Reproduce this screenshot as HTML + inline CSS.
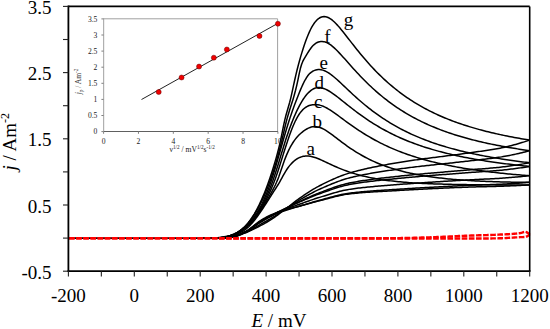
<!DOCTYPE html>
<html><head><meta charset="utf-8"><style>
html,body{margin:0;padding:0;background:#fff;}
body{width:550px;height:329px;overflow:hidden;}
svg{display:block;font-family:"Liberation Serif",serif;}
</style></head><body>
<svg width="550" height="329" viewBox="0 0 550 329">
<rect width="550" height="329" fill="#fff"/>
<g>
<line x1="103.6" y1="18.8" x2="277.6" y2="18.8" stroke="#a0a0a0" stroke-width="1"/>
<line x1="277.6" y1="18.8" x2="277.6" y2="131.6" stroke="#a0a0a0" stroke-width="1"/>
<line x1="103.6" y1="18.3" x2="103.6" y2="131.6" stroke="#b0b0b0" stroke-width="1.2"/>
<line x1="103.6" y1="131.5" x2="278" y2="131.5" stroke="#606060" stroke-width="1.2"/>
<line x1="101.4" y1="131.60" x2="103.6" y2="131.60" stroke="#808080" stroke-width="1"/>
<line x1="101.4" y1="115.50" x2="103.6" y2="115.50" stroke="#808080" stroke-width="1"/>
<line x1="101.4" y1="99.40" x2="103.6" y2="99.40" stroke="#808080" stroke-width="1"/>
<line x1="101.4" y1="83.30" x2="103.6" y2="83.30" stroke="#808080" stroke-width="1"/>
<line x1="101.4" y1="67.20" x2="103.6" y2="67.20" stroke="#808080" stroke-width="1"/>
<line x1="101.4" y1="51.10" x2="103.6" y2="51.10" stroke="#808080" stroke-width="1"/>
<line x1="101.4" y1="35.00" x2="103.6" y2="35.00" stroke="#808080" stroke-width="1"/>
<line x1="101.4" y1="18.90" x2="103.6" y2="18.90" stroke="#808080" stroke-width="1"/>
<line x1="103.60" y1="131.6" x2="103.60" y2="133.8" stroke="#808080" stroke-width="1"/>
<line x1="138.46" y1="131.6" x2="138.46" y2="133.8" stroke="#808080" stroke-width="1"/>
<line x1="173.32" y1="131.6" x2="173.32" y2="133.8" stroke="#808080" stroke-width="1"/>
<line x1="208.18" y1="131.6" x2="208.18" y2="133.8" stroke="#808080" stroke-width="1"/>
<line x1="243.04" y1="131.6" x2="243.04" y2="133.8" stroke="#808080" stroke-width="1"/>
<line x1="277.90" y1="131.6" x2="277.90" y2="133.8" stroke="#808080" stroke-width="1"/>
<line x1="141.50" y1="99.50" x2="277.40" y2="23.60" stroke="#222" stroke-width="1"/>
<circle cx="158.71" cy="91.99" r="2.5" fill="#f00000" stroke="#600" stroke-width="0.5"/>
<circle cx="181.55" cy="77.50" r="2.5" fill="#f00000" stroke="#600" stroke-width="0.5"/>
<circle cx="199.06" cy="66.56" r="2.5" fill="#f00000" stroke="#600" stroke-width="0.5"/>
<circle cx="213.84" cy="57.70" r="2.5" fill="#f00000" stroke="#600" stroke-width="0.5"/>
<circle cx="226.85" cy="49.49" r="2.5" fill="#f00000" stroke="#600" stroke-width="0.5"/>
<circle cx="259.49" cy="35.97" r="2.5" fill="#f00000" stroke="#600" stroke-width="0.5"/>
<circle cx="277.90" cy="23.73" r="2.5" fill="#f00000" stroke="#600" stroke-width="0.5"/>
</g>
<g fill="none" stroke="#000" stroke-width="1.5" stroke-linejoin="round">
<path d="M200.00,238.10 215.00,238.10 216.03,237.98 217.06,237.85 218.08,237.71 219.11,237.56 220.14,237.40 221.17,237.24 222.20,237.08 223.22,236.91 224.25,236.74 225.28,236.57 226.31,236.40 227.34,236.22 228.37,236.05 229.39,235.87 230.42,235.68 231.45,235.47 232.48,235.24 233.51,235.00 234.53,234.73 235.56,234.43 236.59,234.10 237.62,233.74 238.65,233.34 239.67,232.89 240.70,232.40 241.73,231.86 242.76,231.27 243.79,230.62 244.81,229.91 245.84,229.14 246.87,228.30 247.90,227.40 248.93,226.43 249.96,225.40 250.98,224.31 252.01,223.17 253.04,221.97 254.07,220.72 255.10,219.43 256.12,218.10 257.15,216.72 258.18,215.31 259.21,213.86 260.24,212.38 261.26,210.87 262.29,209.34 263.32,207.79 264.35,206.21 265.38,204.62 266.40,203.02 267.43,201.41 268.46,199.79 269.49,198.17 270.52,196.55 271.54,194.92 272.57,193.31 273.60,191.70 274.63,190.11 275.66,188.52 276.69,186.91 277.71,185.26 278.74,183.54 279.77,181.76 280.80,179.91 281.83,178.03 282.85,176.15 283.88,174.31 284.91,172.52 285.94,170.84 286.97,169.25 287.99,167.78 289.02,166.40 290.05,165.12 291.08,163.94 292.11,162.86 293.13,161.86 294.16,160.95 295.19,160.13 296.22,159.39 297.25,158.73 298.28,158.15 299.30,157.64 300.33,157.21 301.36,156.85 302.39,156.56 303.42,156.33 304.44,156.16 305.47,156.06 306.50,156.01 308.38,156.09 310.25,156.32 312.13,156.70 314.00,157.21 315.88,157.82 317.75,158.52 319.63,159.29 321.51,160.11 323.38,160.97 325.26,161.84 327.13,162.73 329.01,163.61 330.88,164.49 332.76,165.35 334.63,166.20 336.51,167.03 338.39,167.83 340.26,168.61 342.14,169.37 344.01,170.10 345.89,170.80 347.76,171.47 349.64,172.12 351.52,172.74 353.39,173.33 355.27,173.90 357.14,174.45 359.02,174.97 360.89,175.46 362.77,175.94 364.64,176.39 366.52,176.82 368.40,177.23 370.27,177.63 372.15,178.00 374.02,178.36 375.90,178.70 377.77,179.02 379.65,179.33 381.53,179.62 383.40,179.90 385.28,180.16 387.15,180.42 389.03,180.66 390.90,180.88 392.78,181.10 394.65,181.31 396.53,181.50 398.41,181.69 400.28,181.87 402.16,182.03 404.03,182.19 405.91,182.35 407.78,182.49 409.66,182.63 411.54,182.76 413.41,182.88 415.29,183.00 417.16,183.11 419.04,183.21 420.91,183.31 422.79,183.41 424.66,183.50 426.54,183.58 428.42,183.67 430.29,183.74 432.17,183.81 434.04,183.88 435.92,183.95 437.79,184.01 439.67,184.07 441.55,184.12 443.42,184.18 445.30,184.23 447.17,184.27 449.05,184.32 450.92,184.36 452.80,184.40 454.67,184.44 456.55,184.47 458.43,184.51 460.30,184.54 462.18,184.57 464.05,184.60 465.93,184.62 467.80,184.65 469.68,184.67 471.56,184.69 473.43,184.71 475.31,184.73 477.18,184.75 479.06,184.77 480.93,184.78 482.81,184.80 484.68,184.81 486.56,184.82 488.44,184.84 490.31,184.85 492.19,184.86 494.06,184.87 495.94,184.88 497.81,184.88 499.69,184.89 501.57,184.90 503.44,184.90 505.32,184.91 507.19,184.92 509.07,184.92 510.94,184.92 512.82,184.93 514.69,184.93 516.57,184.93 518.45,184.94 520.32,184.94 522.20,184.94 524.07,184.94 525.95,184.94 527.82,184.94 529.70,184.94"/>
<path d="M529.70,184.94 528.14,185.02 526.59,185.11 525.03,185.19 523.47,185.27 521.92,185.35 520.36,185.42 518.80,185.50 517.25,185.57 515.69,185.64 514.14,185.72 512.58,185.78 511.02,185.85 509.47,185.92 507.91,185.98 506.35,186.04 504.80,186.10 503.24,186.16 501.68,186.21 500.13,186.27 498.57,186.32 497.01,186.37 495.46,186.41 493.90,186.45 492.35,186.49 490.79,186.53 489.23,186.57 487.68,186.61 486.12,186.65 484.56,186.68 483.01,186.72 481.45,186.76 479.89,186.79 478.34,186.83 476.78,186.87 475.22,186.91 473.67,186.96 472.11,187.00 470.56,187.05 469.00,187.10 467.44,187.16 465.89,187.21 464.33,187.27 462.77,187.32 461.22,187.38 459.66,187.44 458.10,187.50 456.55,187.56 454.99,187.62 453.43,187.69 451.88,187.75 450.32,187.82 448.77,187.89 447.21,187.96 445.65,188.03 444.10,188.10 442.54,188.17 440.98,188.24 439.43,188.31 437.87,188.39 436.31,188.46 434.76,188.54 433.20,188.61 431.64,188.69 430.09,188.77 428.53,188.85 426.98,188.93 425.42,189.01 423.86,189.09 422.31,189.17 420.75,189.26 419.19,189.34 417.64,189.42 416.08,189.51 414.52,189.59 412.97,189.68 411.41,189.76 409.85,189.85 408.30,189.93 406.74,190.02 405.19,190.11 403.63,190.20 402.07,190.29 400.52,190.37 398.96,190.46 397.40,190.55 395.85,190.64 394.29,190.73 392.73,190.81 391.18,190.90 389.62,190.98 388.06,191.06 386.51,191.15 384.95,191.23 383.40,191.32 381.84,191.40 380.28,191.49 378.73,191.58 377.17,191.67 375.61,191.76 374.06,191.85 372.50,191.95 370.94,192.05 369.39,192.16 367.83,192.26 366.27,192.37 364.72,192.49 363.16,192.61 361.61,192.73 360.05,192.86 358.49,193.00 356.94,193.13 355.38,193.28 353.82,193.43 352.27,193.59 350.71,193.75 349.15,193.93 347.60,194.14 346.04,194.37 344.48,194.63 342.93,194.92 341.37,195.23 339.82,195.56 338.26,195.90 336.70,196.27 335.15,196.64 333.59,197.03 332.03,197.43 330.48,197.84 328.92,198.25 327.36,198.66 325.81,199.07 324.25,199.49 322.69,199.90 321.14,200.30 319.58,200.70 318.03,201.09 316.47,201.49 314.91,201.90 313.36,202.32 311.80,202.74 310.24,203.18 308.69,203.61 307.13,204.05 305.57,204.48 304.02,204.91 302.46,205.34 300.90,205.76 299.35,206.17 297.79,206.57 296.24,206.96 294.68,207.35 293.12,207.73 291.57,208.12 290.01,208.52 288.45,208.93 286.90,209.36 285.34,209.82 283.78,210.29 282.23,210.77 280.67,211.27 279.11,211.79 277.56,212.33 276.00,212.89 274.45,213.48 272.89,214.10 271.33,214.75 269.78,215.45 268.22,216.20 266.66,216.98 265.11,217.81 263.55,218.67 261.99,219.56 260.44,220.54 258.88,221.63 257.32,222.80 255.77,224.04 254.21,225.30 252.66,226.56 251.10,227.79 249.54,228.97 247.99,230.07 246.43,231.05 244.87,231.90 243.32,232.67 241.76,233.43 240.20,234.15 238.65,234.81 237.09,235.41 235.53,235.92 233.98,236.33 232.42,236.64 230.87,236.92 229.31,237.19 227.75,237.44 226.20,237.66 224.64,237.84 223.08,237.98 221.53,238.07 219.97,238.10 200.00,238.10"/>
<path d="M200.00,238.10 215.00,238.07 216.12,238.05 217.24,238.01 218.36,237.97 219.48,237.90 220.60,237.82 221.71,237.72 222.83,237.61 223.95,237.46 225.07,237.30 226.19,237.11 227.31,236.89 228.43,236.64 229.55,236.37 230.67,236.06 231.79,235.71 232.91,235.33 234.02,234.91 235.14,234.45 236.26,233.95 237.38,233.41 238.50,232.82 239.62,232.19 240.74,231.51 241.86,230.77 242.98,229.99 244.10,229.15 245.22,228.26 246.33,227.31 247.45,226.30 248.57,225.24 249.69,224.12 250.81,222.95 251.93,221.73 253.05,220.45 254.17,219.12 255.29,217.74 256.41,216.30 257.53,214.82 258.64,213.29 259.76,211.70 260.88,210.07 262.00,208.40 263.12,206.67 264.24,204.90 265.36,203.09 266.48,201.23 267.60,199.33 268.72,197.38 269.84,195.39 270.96,193.36 272.07,191.29 273.19,189.18 274.31,187.01 275.43,184.73 276.55,182.29 277.67,179.65 278.79,176.75 279.91,173.61 281.03,170.34 282.15,167.01 283.27,163.73 284.38,160.59 285.50,157.64 286.62,154.89 287.74,152.33 288.86,149.94 289.98,147.73 291.10,145.67 292.22,143.77 293.34,142.01 294.46,140.39 295.58,138.89 296.69,137.51 297.81,136.24 298.93,135.06 300.05,133.98 301.17,132.98 302.29,132.06 303.41,131.20 304.53,130.40 305.65,129.66 306.77,128.99 307.89,128.39 309.00,127.87 310.12,127.43 311.24,127.08 312.36,126.81 313.48,126.63 314.60,126.55 316.41,126.67 318.22,127.01 320.02,127.55 321.83,128.29 323.64,129.19 325.45,130.22 327.25,131.37 329.06,132.59 330.87,133.88 332.68,135.22 334.48,136.58 336.29,137.95 338.10,139.33 339.91,140.71 341.71,142.07 343.52,143.41 345.33,144.73 347.14,146.02 348.94,147.29 350.75,148.52 352.56,149.73 354.37,150.90 356.17,152.04 357.98,153.15 359.79,154.22 361.60,155.26 363.40,156.27 365.21,157.25 367.02,158.19 368.83,159.10 370.63,159.99 372.44,160.84 374.25,161.66 376.06,162.46 377.86,163.23 379.67,163.97 381.48,164.69 383.29,165.38 385.09,166.04 386.90,166.68 388.71,167.30 390.52,167.90 392.33,168.48 394.13,169.03 395.94,169.57 397.75,170.09 399.56,170.58 401.36,171.06 403.17,171.52 404.98,171.97 406.79,172.40 408.59,172.81 410.40,173.21 412.21,173.59 414.02,173.96 415.82,174.32 417.63,174.66 419.44,174.99 421.25,175.31 423.05,175.62 424.86,175.91 426.67,176.20 428.48,176.47 430.28,176.73 432.09,176.99 433.90,177.23 435.71,177.47 437.51,177.69 439.32,177.91 441.13,178.12 442.94,178.32 444.74,178.52 446.55,178.70 448.36,178.88 450.17,179.06 451.97,179.22 453.78,179.38 455.59,179.54 457.40,179.68 459.21,179.83 461.01,179.96 462.82,180.09 464.63,180.22 466.44,180.34 468.24,180.46 470.05,180.57 471.86,180.68 473.67,180.78 475.47,180.88 477.28,180.97 479.09,181.06 480.90,181.15 482.70,181.24 484.51,181.32 486.32,181.39 488.13,181.46 489.93,181.53 491.74,181.60 493.55,181.66 495.36,181.72 497.16,181.78 498.97,181.84 500.78,181.89 502.59,181.94 504.39,181.98 506.20,182.03 508.01,182.07 509.82,182.11 511.62,182.14 513.43,182.18 515.24,182.21 517.05,182.24 518.85,182.26 520.66,182.29 522.47,182.31 524.28,182.33 526.08,182.34 527.89,182.35 529.70,182.36"/>
<path d="M529.70,182.36 528.14,182.48 526.59,182.59 525.03,182.71 523.47,182.82 521.92,182.93 520.36,183.04 518.80,183.15 517.25,183.25 515.69,183.35 514.14,183.45 512.58,183.55 511.02,183.64 509.47,183.73 507.91,183.82 506.35,183.91 504.80,183.99 503.24,184.07 501.68,184.15 500.13,184.23 498.57,184.30 497.01,184.36 495.46,184.43 493.90,184.49 492.35,184.55 490.79,184.60 489.23,184.66 487.68,184.71 486.12,184.76 484.56,184.81 483.01,184.86 481.45,184.91 479.89,184.97 478.34,185.02 476.78,185.07 475.22,185.13 473.67,185.19 472.11,185.25 470.56,185.31 469.00,185.38 467.44,185.45 465.89,185.51 464.33,185.58 462.77,185.65 461.22,185.72 459.66,185.80 458.10,185.87 456.55,185.94 454.99,186.02 453.43,186.09 451.88,186.17 450.32,186.24 448.77,186.32 447.21,186.40 445.65,186.48 444.10,186.56 442.54,186.64 440.98,186.72 439.43,186.80 437.87,186.88 436.31,186.96 434.76,187.05 433.20,187.13 431.64,187.22 430.09,187.31 428.53,187.39 426.98,187.48 425.42,187.57 423.86,187.66 422.31,187.75 420.75,187.84 419.19,187.93 417.64,188.02 416.08,188.12 414.52,188.21 412.97,188.30 411.41,188.40 409.85,188.50 408.30,188.59 406.74,188.69 405.19,188.79 403.63,188.89 402.07,188.99 400.52,189.09 398.96,189.19 397.40,189.29 395.85,189.39 394.29,189.49 392.73,189.59 391.18,189.69 389.62,189.78 388.06,189.88 386.51,189.98 384.95,190.08 383.40,190.18 381.84,190.28 380.28,190.38 378.73,190.49 377.17,190.59 375.61,190.70 374.06,190.81 372.50,190.92 370.94,191.04 369.39,191.16 367.83,191.29 366.27,191.42 364.72,191.55 363.16,191.69 361.61,191.83 360.05,191.98 358.49,192.13 356.94,192.29 355.38,192.46 353.82,192.63 352.27,192.81 350.71,192.99 349.15,193.19 347.60,193.42 346.04,193.67 344.48,193.95 342.93,194.25 341.37,194.58 339.82,194.92 338.26,195.28 336.70,195.66 335.15,196.05 333.59,196.46 332.03,196.87 330.48,197.29 328.92,197.72 327.36,198.15 325.81,198.59 324.25,199.02 322.69,199.45 321.14,199.88 319.58,200.30 318.03,200.72 316.47,201.14 314.91,201.59 313.36,202.04 311.80,202.50 310.24,202.96 308.69,203.43 307.13,203.91 305.57,204.38 304.02,204.86 302.46,205.33 300.90,205.80 299.35,206.26 297.79,206.71 296.24,207.15 294.68,207.60 293.12,208.04 291.57,208.49 290.01,208.95 288.45,209.42 286.90,209.91 285.34,210.42 283.78,210.94 282.23,211.47 280.67,212.01 279.11,212.57 277.56,213.15 276.00,213.75 274.45,214.38 272.89,215.02 271.33,215.70 269.78,216.41 268.22,217.15 266.66,217.93 265.11,218.73 263.55,219.58 261.99,220.45 260.44,221.39 258.88,222.44 257.32,223.56 255.77,224.72 254.21,225.91 252.66,227.10 251.10,228.26 249.54,229.37 247.99,230.40 246.43,231.34 244.87,232.14 243.32,232.89 241.76,233.61 240.20,234.30 238.65,234.95 237.09,235.52 235.53,236.02 233.98,236.41 232.42,236.71 230.87,236.98 229.31,237.24 227.75,237.47 226.20,237.68 224.64,237.85 223.08,237.99 221.53,238.07 219.97,238.10 200.00,238.10"/>
<path d="M200.00,238.10 215.00,238.09 216.13,238.04 217.27,237.98 218.40,237.90 219.54,237.81 220.67,237.70 221.81,237.57 222.94,237.41 224.08,237.23 225.21,237.03 226.35,236.80 227.48,236.54 228.62,236.26 229.75,235.94 230.89,235.58 232.02,235.20 233.16,234.78 234.29,234.32 235.43,233.82 236.56,233.28 237.70,232.69 238.83,232.07 239.97,231.40 241.10,230.68 242.24,229.91 243.37,229.09 244.51,228.22 245.64,227.30 246.78,226.33 247.91,225.29 249.04,224.20 250.18,223.05 251.31,221.84 252.45,220.56 253.58,219.22 254.72,217.82 255.85,216.35 256.99,214.81 258.12,213.19 259.26,211.51 260.39,209.75 261.53,207.92 262.66,206.01 263.80,204.02 264.93,201.95 266.07,199.80 267.20,197.56 268.34,195.25 269.47,192.84 270.61,190.35 271.74,187.76 272.88,185.06 274.01,182.23 275.15,179.24 276.28,176.07 277.42,172.74 278.55,169.28 279.69,165.72 280.82,162.11 281.96,158.49 283.09,154.88 284.22,151.30 285.36,147.76 286.49,144.28 287.63,140.88 288.76,137.56 289.90,134.36 291.03,131.28 292.17,128.35 293.30,125.56 294.44,122.96 295.57,120.54 296.71,118.32 297.84,116.31 298.98,114.50 300.11,112.88 301.25,111.43 302.38,110.15 303.52,109.03 304.65,108.07 305.79,107.24 306.92,106.55 308.06,105.98 309.19,105.53 310.33,105.17 311.46,104.92 312.60,104.75 313.73,104.66 314.87,104.65 316.00,104.71 317.80,104.81 319.59,105.11 321.39,105.60 323.18,106.26 324.98,107.07 326.77,108.01 328.57,109.05 330.37,110.18 332.16,111.37 333.96,112.61 335.75,113.89 337.55,115.20 339.35,116.52 341.14,117.85 342.94,119.17 344.73,120.50 346.53,121.81 348.32,123.12 350.12,124.41 351.92,125.68 353.71,126.93 355.51,128.16 357.30,129.38 359.10,130.56 360.89,131.73 362.69,132.88 364.49,134.00 366.28,135.09 368.08,136.17 369.87,137.22 371.67,138.25 373.47,139.25 375.26,140.23 377.06,141.19 378.85,142.13 380.65,143.05 382.44,143.94 384.24,144.81 386.04,145.67 387.83,146.50 389.63,147.31 391.42,148.10 393.22,148.88 395.02,149.63 396.81,150.37 398.61,151.09 400.40,151.79 402.20,152.48 403.99,153.14 405.79,153.80 407.59,154.43 409.38,155.05 411.18,155.66 412.97,156.25 414.77,156.83 416.56,157.39 418.36,157.94 420.16,158.48 421.95,159.00 423.75,159.51 425.54,160.01 427.34,160.50 429.14,160.97 430.93,161.43 432.73,161.89 434.52,162.33 436.32,162.76 438.11,163.18 439.91,163.59 441.71,163.99 443.50,164.38 445.30,164.77 447.09,165.14 448.89,165.51 450.68,165.86 452.48,166.21 454.28,166.55 456.07,166.88 457.87,167.21 459.66,167.53 461.46,167.84 463.26,168.14 465.05,168.44 466.85,168.73 468.64,169.01 470.44,169.29 472.23,169.56 474.03,169.82 475.83,170.08 477.62,170.33 479.42,170.58 481.21,170.82 483.01,171.06 484.81,171.29 486.60,171.52 488.40,171.74 490.19,171.96 491.99,172.17 493.78,172.38 495.58,172.58 497.38,172.78 499.17,172.97 500.97,173.17 502.76,173.35 504.56,173.53 506.35,173.71 508.15,173.89 509.95,174.06 511.74,174.22 513.54,174.39 515.33,174.55 517.13,174.70 518.93,174.86 520.72,175.00 522.52,175.15 524.31,175.29 526.11,175.42 527.90,175.55 529.70,175.67"/>
<path d="M529.70,175.67 528.14,175.84 526.59,176.00 525.03,176.16 523.47,176.32 521.92,176.48 520.36,176.63 518.80,176.78 517.25,176.93 515.69,177.07 514.14,177.21 512.58,177.35 511.02,177.48 509.47,177.61 507.91,177.73 506.35,177.85 504.80,177.97 503.24,178.08 501.68,178.19 500.13,178.30 498.57,178.39 497.01,178.49 495.46,178.58 493.90,178.66 492.35,178.75 490.79,178.83 489.23,178.90 487.68,178.98 486.12,179.05 484.56,179.12 483.01,179.20 481.45,179.27 479.89,179.34 478.34,179.41 476.78,179.49 475.22,179.56 473.67,179.64 472.11,179.72 470.56,179.81 469.00,179.90 467.44,179.99 465.89,180.07 464.33,180.16 462.77,180.25 461.22,180.34 459.66,180.43 458.10,180.52 456.55,180.61 454.99,180.71 453.43,180.80 451.88,180.89 450.32,180.98 448.77,181.08 447.21,181.17 445.65,181.27 444.10,181.36 442.54,181.46 440.98,181.55 439.43,181.65 437.87,181.75 436.31,181.85 434.76,181.95 433.20,182.05 431.64,182.15 430.09,182.25 428.53,182.35 426.98,182.46 425.42,182.56 423.86,182.67 422.31,182.77 420.75,182.88 419.19,182.99 417.64,183.09 416.08,183.20 414.52,183.32 412.97,183.43 411.41,183.54 409.85,183.65 408.30,183.77 406.74,183.89 405.19,184.00 403.63,184.12 402.07,184.24 400.52,184.36 398.96,184.49 397.40,184.61 395.85,184.73 394.29,184.85 392.73,184.97 391.18,185.09 389.62,185.21 388.06,185.34 386.51,185.46 384.95,185.58 383.40,185.70 381.84,185.83 380.28,185.95 378.73,186.08 377.17,186.21 375.61,186.35 374.06,186.49 372.50,186.63 370.94,186.77 369.39,186.92 367.83,187.07 366.27,187.23 364.72,187.39 363.16,187.56 361.61,187.74 360.05,187.92 358.49,188.10 356.94,188.30 355.38,188.50 353.82,188.70 352.27,188.92 350.71,189.14 349.15,189.38 347.60,189.64 346.04,189.93 344.48,190.25 342.93,190.59 341.37,190.96 339.82,191.34 338.26,191.75 336.70,192.17 335.15,192.60 333.59,193.05 332.03,193.51 330.48,193.98 328.92,194.46 327.36,194.94 325.81,195.42 324.25,195.91 322.69,196.39 321.14,196.87 319.58,197.35 318.03,197.83 316.47,198.32 314.91,198.82 313.36,199.34 311.80,199.87 310.24,200.41 308.69,200.96 307.13,201.51 305.57,202.06 304.02,202.62 302.46,203.17 300.90,203.72 299.35,204.27 297.79,204.81 296.24,205.35 294.68,205.89 293.12,206.44 291.57,206.99 290.01,207.55 288.45,208.12 286.90,208.71 285.34,209.31 283.78,209.92 282.23,210.54 280.67,211.18 279.11,211.83 277.56,212.49 276.00,213.18 274.45,213.88 272.89,214.60 271.33,215.34 269.78,216.11 268.22,216.90 266.66,217.71 265.11,218.56 263.55,219.43 261.99,220.33 260.44,221.30 258.88,222.36 257.32,223.49 255.77,224.65 254.21,225.83 252.66,227.01 251.10,228.16 249.54,229.27 247.99,230.29 246.43,231.22 244.87,232.04 243.32,232.79 241.76,233.53 240.20,234.24 238.65,234.90 237.09,235.49 235.53,235.99 233.98,236.40 232.42,236.70 230.87,236.97 229.31,237.23 227.75,237.47 226.20,237.68 224.64,237.85 223.08,237.99 221.53,238.07 219.97,238.10 200.00,238.10"/>
<path d="M200.00,238.10 215.00,238.09 216.16,238.03 217.32,237.96 218.48,237.87 219.64,237.76 220.80,237.63 221.96,237.48 223.12,237.31 224.29,237.11 225.45,236.88 226.61,236.62 227.77,236.33 228.93,236.01 230.09,235.66 231.25,235.27 232.41,234.84 233.57,234.38 234.73,233.87 235.89,233.33 237.05,232.74 238.21,232.10 239.37,231.42 240.53,230.70 241.70,229.92 242.86,229.09 244.02,228.20 245.18,227.27 246.34,226.27 247.50,225.21 248.66,224.09 249.82,222.90 250.98,221.64 252.14,220.31 253.30,218.90 254.46,217.42 255.62,215.85 256.78,214.19 257.94,212.45 259.11,210.61 260.27,208.68 261.43,206.66 262.59,204.53 263.75,202.30 264.91,199.96 266.07,197.51 267.23,194.94 268.39,192.26 269.55,189.45 270.71,186.50 271.87,183.42 273.03,180.20 274.19,176.83 275.36,173.32 276.52,169.69 277.68,165.97 278.84,162.19 280.00,158.37 281.16,154.53 282.32,150.71 283.48,146.92 284.64,143.21 285.80,139.58 286.96,136.06 288.12,132.66 289.28,129.37 290.44,126.19 291.60,123.14 292.77,120.20 293.93,117.38 295.09,114.69 296.25,112.11 297.41,109.66 298.57,107.33 299.73,105.12 300.89,103.04 302.05,101.09 303.21,99.27 304.37,97.58 305.53,96.01 306.69,94.58 307.85,93.28 309.01,92.11 310.18,91.07 311.34,90.16 312.50,89.39 313.66,88.75 314.82,88.25 315.98,87.87 317.14,87.63 318.30,87.50 320.08,87.60 321.85,87.92 323.63,88.44 325.41,89.14 327.18,90.00 328.96,91.00 330.74,92.10 332.51,93.30 334.29,94.57 336.06,95.90 337.84,97.26 339.62,98.66 341.39,100.07 343.17,101.49 344.95,102.91 346.72,104.33 348.50,105.74 350.28,107.14 352.05,108.53 353.83,109.90 355.61,111.25 357.38,112.58 359.16,113.89 360.94,115.18 362.71,116.44 364.49,117.68 366.26,118.90 368.04,120.09 369.82,121.26 371.59,122.41 373.37,123.53 375.15,124.63 376.92,125.71 378.70,126.76 380.48,127.79 382.25,128.79 384.03,129.78 385.81,130.74 387.58,131.68 389.36,132.60 391.14,133.50 392.91,134.38 394.69,135.24 396.46,136.07 398.24,136.89 400.02,137.70 401.79,138.48 403.57,139.24 405.35,139.99 407.12,140.72 408.90,141.44 410.68,142.13 412.45,142.81 414.23,143.48 416.01,144.13 417.78,144.77 419.56,145.39 421.34,146.00 423.11,146.59 424.89,147.17 426.66,147.74 428.44,148.29 430.22,148.83 431.99,149.36 433.77,149.88 435.55,150.39 437.32,150.88 439.10,151.37 440.88,151.84 442.65,152.31 444.43,152.76 446.21,153.20 447.98,153.64 449.76,154.06 451.54,154.47 453.31,154.88 455.09,155.28 456.86,155.67 458.64,156.05 460.42,156.42 462.19,156.79 463.97,157.14 465.75,157.49 467.52,157.84 469.30,158.17 471.08,158.50 472.85,158.82 474.63,159.14 476.41,159.45 478.18,159.75 479.96,160.05 481.74,160.34 483.51,160.62 485.29,160.90 487.06,161.18 488.84,161.45 490.62,161.71 492.39,161.97 494.17,162.23 495.95,162.48 497.72,162.72 499.50,162.96 501.28,163.20 503.05,163.43 504.83,163.66 506.61,163.88 508.38,164.10 510.16,164.32 511.94,164.53 513.71,164.74 515.49,164.95 517.26,165.15 519.04,165.35 520.82,165.54 522.59,165.73 524.37,165.92 526.15,166.11 527.92,166.29 529.70,166.47"/>
<path d="M529.70,166.47 528.14,166.71 526.59,166.95 525.03,167.19 523.47,167.42 521.92,167.65 520.36,167.87 518.80,168.09 517.25,168.30 515.69,168.51 514.14,168.72 512.58,168.91 511.02,169.11 509.47,169.30 507.91,169.48 506.35,169.65 504.80,169.82 503.24,169.99 501.68,170.15 500.13,170.30 498.57,170.44 497.01,170.58 495.46,170.71 493.90,170.83 492.35,170.95 490.79,171.07 489.23,171.19 487.68,171.30 486.12,171.40 484.56,171.51 483.01,171.62 481.45,171.72 479.89,171.82 478.34,171.93 476.78,172.04 475.22,172.14 473.67,172.26 472.11,172.37 470.56,172.49 469.00,172.61 467.44,172.73 465.89,172.85 464.33,172.96 462.77,173.08 461.22,173.20 459.66,173.32 458.10,173.44 456.55,173.56 454.99,173.67 453.43,173.79 451.88,173.91 450.32,174.03 448.77,174.15 447.21,174.26 445.65,174.38 444.10,174.50 442.54,174.62 440.98,174.74 439.43,174.86 437.87,174.98 436.31,175.10 434.76,175.23 433.20,175.35 431.64,175.47 430.09,175.60 428.53,175.72 426.98,175.85 425.42,175.98 423.86,176.11 422.31,176.24 420.75,176.37 419.19,176.50 417.64,176.63 416.08,176.77 414.52,176.91 412.97,177.04 411.41,177.18 409.85,177.33 408.30,177.47 406.74,177.61 405.19,177.76 403.63,177.91 402.07,178.06 400.52,178.21 398.96,178.36 397.40,178.52 395.85,178.67 394.29,178.83 392.73,178.98 391.18,179.14 389.62,179.30 388.06,179.45 386.51,179.61 384.95,179.77 383.40,179.93 381.84,180.09 380.28,180.26 378.73,180.42 377.17,180.59 375.61,180.77 374.06,180.95 372.50,181.13 370.94,181.32 369.39,181.51 367.83,181.70 366.27,181.91 364.72,182.11 363.16,182.33 361.61,182.55 360.05,182.78 358.49,183.01 356.94,183.26 355.38,183.51 353.82,183.76 352.27,184.03 350.71,184.31 349.15,184.60 347.60,184.92 346.04,185.26 344.48,185.63 342.93,186.03 341.37,186.45 339.82,186.90 338.26,187.36 336.70,187.84 335.15,188.33 333.59,188.84 332.03,189.36 330.48,189.90 328.92,190.44 327.36,190.99 325.81,191.54 324.25,192.10 322.69,192.66 321.14,193.22 319.58,193.78 318.03,194.33 316.47,194.91 314.91,195.51 313.36,196.12 311.80,196.75 310.24,197.40 308.69,198.05 307.13,198.72 305.57,199.39 304.02,200.06 302.46,200.73 300.90,201.41 299.35,202.08 297.79,202.76 296.24,203.45 294.68,204.14 293.12,204.84 291.57,205.54 290.01,206.25 288.45,206.98 286.90,207.71 285.34,208.45 283.78,209.20 282.23,209.96 280.67,210.73 279.11,211.50 277.56,212.29 276.00,213.09 274.45,213.90 272.89,214.72 271.33,215.54 269.78,216.38 268.22,217.22 266.66,218.08 265.11,218.96 263.55,219.86 261.99,220.78 260.44,221.75 258.88,222.80 257.32,223.89 255.77,225.01 254.21,226.14 252.66,227.26 251.10,228.36 249.54,229.40 247.99,230.39 246.43,231.28 244.87,232.08 243.32,232.83 241.76,233.56 240.20,234.27 238.65,234.93 237.09,235.52 235.53,236.03 233.98,236.43 232.42,236.72 230.87,236.99 229.31,237.25 227.75,237.48 226.20,237.69 224.64,237.86 223.08,237.99 221.53,238.07 219.97,238.10 200.00,238.10"/>
<path d="M200.00,238.10 215.00,238.10 216.17,238.03 217.34,237.95 218.52,237.85 219.69,237.73 220.86,237.58 222.03,237.42 223.20,237.22 224.38,237.00 225.55,236.75 226.72,236.47 227.89,236.16 229.06,235.82 230.23,235.44 231.41,235.02 232.58,234.56 233.75,234.07 234.92,233.53 236.09,232.95 237.27,232.33 238.44,231.66 239.61,230.94 240.78,230.17 241.95,229.35 243.13,228.47 244.30,227.54 245.47,226.56 246.64,225.50 247.81,224.38 248.99,223.19 250.16,221.92 251.33,220.57 252.50,219.13 253.67,217.60 254.84,215.98 256.02,214.25 257.19,212.43 258.36,210.50 259.53,208.45 260.70,206.29 261.88,204.01 263.05,201.61 264.22,199.07 265.39,196.40 266.56,193.59 267.74,190.65 268.91,187.55 270.08,184.30 271.25,180.90 272.42,177.34 273.60,173.62 274.77,169.77 275.94,165.81 277.11,161.76 278.28,157.65 279.46,153.50 280.63,149.33 281.80,145.18 282.97,141.05 284.14,136.97 285.31,132.96 286.49,129.03 287.66,125.21 288.83,121.49 290.00,117.89 291.17,114.42 292.35,111.05 293.52,107.77 294.69,104.58 295.86,101.46 297.03,98.40 298.21,95.40 299.38,92.47 300.55,89.64 301.72,86.93 302.89,84.36 304.07,81.97 305.24,79.77 306.41,77.79 307.58,76.05 308.75,74.58 309.92,73.35 311.10,72.34 312.27,71.52 313.44,70.87 314.61,70.36 315.78,69.99 316.96,69.75 318.13,69.62 319.30,69.62 321.07,69.75 322.84,70.12 324.60,70.74 326.37,71.56 328.14,72.58 329.91,73.75 331.68,75.06 333.44,76.47 335.21,77.97 336.98,79.53 338.75,81.14 340.52,82.78 342.28,84.45 344.05,86.12 345.82,87.80 347.59,89.47 349.36,91.14 351.13,92.79 352.89,94.43 354.66,96.04 356.43,97.64 358.20,99.21 359.97,100.75 361.73,102.27 363.50,103.76 365.27,105.22 367.04,106.66 368.81,108.07 370.57,109.45 372.34,110.80 374.11,112.12 375.88,113.42 377.65,114.69 379.41,115.93 381.18,117.14 382.95,118.33 384.72,119.49 386.49,120.62 388.25,121.73 390.02,122.82 391.79,123.88 393.56,124.91 395.33,125.93 397.09,126.91 398.86,127.88 400.63,128.83 402.40,129.75 404.17,130.65 405.94,131.53 407.70,132.40 409.47,133.24 411.24,134.06 413.01,134.86 414.78,135.65 416.54,136.42 418.31,137.17 420.08,137.90 421.85,138.62 423.62,139.32 425.38,140.00 427.15,140.67 428.92,141.32 430.69,141.96 432.46,142.59 434.22,143.20 435.99,143.80 437.76,144.38 439.53,144.95 441.30,145.51 443.06,146.06 444.83,146.59 446.60,147.11 448.37,147.63 450.14,148.13 451.91,148.62 453.67,149.09 455.44,149.56 457.21,150.02 458.98,150.47 460.75,150.91 462.51,151.34 464.28,151.76 466.05,152.18 467.82,152.58 469.59,152.98 471.35,153.36 473.12,153.74 474.89,154.12 476.66,154.48 478.43,154.84 480.19,155.19 481.96,155.53 483.73,155.87 485.50,156.20 487.27,156.52 489.03,156.84 490.80,157.15 492.57,157.46 494.34,157.76 496.11,158.05 497.87,158.34 499.64,158.63 501.41,158.90 503.18,159.18 504.95,159.45 506.72,159.71 508.48,159.97 510.25,160.23 512.02,160.48 513.79,160.72 515.56,160.96 517.32,161.20 519.09,161.44 520.86,161.67 522.63,161.89 524.40,162.12 526.16,162.34 527.93,162.55 529.70,162.76"/>
<path d="M529.70,162.76 528.14,163.05 526.59,163.32 525.03,163.60 523.47,163.87 521.92,164.13 520.36,164.39 518.80,164.65 517.25,164.90 515.69,165.14 514.14,165.38 512.58,165.61 511.02,165.83 509.47,166.05 507.91,166.26 506.35,166.47 504.80,166.67 503.24,166.86 501.68,167.04 500.13,167.22 498.57,167.38 497.01,167.54 495.46,167.69 493.90,167.84 492.35,167.98 490.79,168.12 489.23,168.25 487.68,168.38 486.12,168.51 484.56,168.63 483.01,168.76 481.45,168.88 479.89,169.00 478.34,169.12 476.78,169.24 475.22,169.37 473.67,169.49 472.11,169.62 470.56,169.76 469.00,169.89 467.44,170.03 465.89,170.16 464.33,170.30 462.77,170.43 461.22,170.56 459.66,170.70 458.10,170.83 456.55,170.96 454.99,171.09 453.43,171.22 451.88,171.35 450.32,171.48 448.77,171.61 447.21,171.74 445.65,171.87 444.10,172.00 442.54,172.13 440.98,172.26 439.43,172.39 437.87,172.52 436.31,172.66 434.76,172.79 433.20,172.92 431.64,173.06 430.09,173.19 428.53,173.33 426.98,173.47 425.42,173.61 423.86,173.75 422.31,173.89 420.75,174.03 419.19,174.17 417.64,174.32 416.08,174.47 414.52,174.61 412.97,174.77 411.41,174.92 409.85,175.07 408.30,175.23 406.74,175.39 405.19,175.55 403.63,175.71 402.07,175.87 400.52,176.04 398.96,176.21 397.40,176.38 395.85,176.55 394.29,176.72 392.73,176.89 391.18,177.07 389.62,177.24 388.06,177.41 386.51,177.59 384.95,177.76 383.40,177.94 381.84,178.12 380.28,178.31 378.73,178.49 377.17,178.68 375.61,178.88 374.06,179.08 372.50,179.28 370.94,179.49 369.39,179.70 367.83,179.92 366.27,180.14 364.72,180.37 363.16,180.61 361.61,180.85 360.05,181.10 358.49,181.36 356.94,181.63 355.38,181.90 353.82,182.19 352.27,182.48 350.71,182.78 349.15,183.09 347.60,183.43 346.04,183.80 344.48,184.20 342.93,184.62 341.37,185.07 339.82,185.53 338.26,186.01 336.70,186.52 335.15,187.04 333.59,187.57 332.03,188.12 330.48,188.67 328.92,189.24 327.36,189.82 325.81,190.40 324.25,190.99 322.69,191.58 321.14,192.17 319.58,192.76 318.03,193.35 316.47,193.97 314.91,194.61 313.36,195.26 311.80,195.94 310.24,196.63 308.69,197.33 307.13,198.05 305.57,198.77 304.02,199.50 302.46,200.23 300.90,200.96 299.35,201.69 297.79,202.43 296.24,203.19 294.68,203.95 293.12,204.72 291.57,205.51 290.01,206.29 288.45,207.09 286.90,207.89 285.34,208.69 283.78,209.51 282.23,210.33 280.67,211.16 279.11,212.00 277.56,212.84 276.00,213.69 274.45,214.54 272.89,215.39 271.33,216.24 269.78,217.10 268.22,217.95 266.66,218.82 265.11,219.69 263.55,220.58 261.99,221.49 260.44,222.45 258.88,223.45 257.32,224.49 255.77,225.56 254.21,226.63 252.66,227.69 251.10,228.72 249.54,229.71 247.99,230.64 246.43,231.49 244.87,232.26 243.32,232.98 241.76,233.70 240.20,234.39 238.65,235.03 237.09,235.61 235.53,236.10 233.98,236.49 232.42,236.78 230.87,237.04 229.31,237.28 227.75,237.51 226.20,237.70 224.64,237.87 223.08,237.99 221.53,238.07 219.97,238.10 200.00,238.10"/>
<path d="M200.00,238.10 215.00,238.07 216.20,238.04 217.40,238.00 218.61,237.94 219.81,237.86 221.01,237.76 222.21,237.62 223.42,237.46 224.62,237.27 225.82,237.04 227.02,236.77 228.22,236.47 229.43,236.12 230.63,235.72 231.83,235.28 233.03,234.78 234.24,234.24 235.44,233.63 236.64,232.97 237.84,232.24 239.04,231.45 240.25,230.60 241.45,229.67 242.65,228.67 243.85,227.60 245.06,226.45 246.26,225.22 247.46,223.91 248.66,222.51 249.87,221.03 251.07,219.45 252.27,217.79 253.47,216.03 254.67,214.18 255.88,212.23 257.08,210.18 258.28,208.02 259.48,205.76 260.69,203.39 261.89,200.91 263.09,198.32 264.29,195.61 265.49,192.79 266.70,189.84 267.90,186.78 269.10,183.59 270.30,180.27 271.51,176.83 272.71,173.24 273.91,169.51 275.11,165.62 276.31,161.56 277.52,157.33 278.72,152.91 279.92,148.29 281.12,143.48 282.33,138.45 283.53,133.23 284.73,128.01 285.93,123.00 287.13,118.39 288.34,114.21 289.54,110.32 290.74,106.58 291.94,102.84 293.15,98.95 294.35,94.80 295.55,90.28 296.75,85.32 297.96,79.83 299.16,73.89 300.36,68.55 301.56,64.49 302.76,61.44 303.97,59.07 305.17,57.06 306.37,55.10 307.57,53.15 308.78,51.25 309.98,49.45 311.18,47.79 312.38,46.34 313.58,45.09 314.79,44.04 315.99,43.18 317.19,42.51 318.39,42.01 319.60,41.68 320.80,41.51 322.00,41.49 323.75,41.64 325.49,42.08 327.24,42.79 328.98,43.76 330.73,44.95 332.47,46.33 334.22,47.86 335.96,49.52 337.71,51.28 339.45,53.11 341.20,55.00 342.94,56.92 344.69,58.87 346.44,60.84 348.18,62.80 349.93,64.77 351.67,66.72 353.42,68.66 355.16,70.58 356.91,72.47 358.65,74.34 360.40,76.18 362.14,77.99 363.89,79.77 365.63,81.52 367.38,83.24 369.13,84.92 370.87,86.57 372.62,88.19 374.36,89.78 376.11,91.33 377.85,92.85 379.60,94.33 381.34,95.79 383.09,97.21 384.83,98.60 386.58,99.96 388.32,101.30 390.07,102.60 391.82,103.87 393.56,105.11 395.31,106.33 397.05,107.51 398.80,108.67 400.54,109.81 402.29,110.92 404.03,112.00 405.78,113.06 407.52,114.09 409.27,115.10 411.01,116.09 412.76,117.05 414.51,118.00 416.25,118.92 418.00,119.82 419.74,120.70 421.49,121.56 423.23,122.40 424.98,123.22 426.72,124.02 428.47,124.81 430.21,125.57 431.96,126.32 433.70,127.06 435.45,127.77 437.19,128.47 438.94,129.16 440.69,129.83 442.43,130.48 444.18,131.12 445.92,131.75 447.67,132.36 449.41,132.96 451.16,133.55 452.90,134.12 454.65,134.69 456.39,135.24 458.14,135.77 459.88,136.30 461.63,136.82 463.38,137.32 465.12,137.81 466.87,138.30 468.61,138.77 470.36,139.24 472.10,139.69 473.85,140.14 475.59,140.57 477.34,141.00 479.08,141.42 480.83,141.83 482.57,142.23 484.32,142.63 486.07,143.02 487.81,143.40 489.56,143.77 491.30,144.13 493.05,144.49 494.79,144.85 496.54,145.19 498.28,145.53 500.03,145.86 501.77,146.19 503.52,146.51 505.26,146.83 507.01,147.14 508.76,147.44 510.50,147.74 512.25,148.03 513.99,148.32 515.74,148.60 517.48,148.88 519.23,149.16 520.97,149.43 522.72,149.69 524.46,149.96 526.21,150.21 527.95,150.47 529.70,150.72"/>
<path d="M529.70,150.72 528.14,151.12 526.59,151.52 525.03,151.92 523.47,152.31 521.92,152.69 520.36,153.06 518.80,153.43 517.25,153.79 515.69,154.14 514.14,154.48 512.58,154.81 511.02,155.14 509.47,155.45 507.91,155.76 506.35,156.05 504.80,156.33 503.24,156.61 501.68,156.87 500.13,157.12 498.57,157.36 497.01,157.59 495.46,157.81 493.90,158.02 492.35,158.23 490.79,158.43 489.23,158.62 487.68,158.81 486.12,158.99 484.56,159.17 483.01,159.35 481.45,159.53 479.89,159.70 478.34,159.87 476.78,160.05 475.22,160.22 473.67,160.40 472.11,160.58 470.56,160.76 469.00,160.95 467.44,161.13 465.89,161.31 464.33,161.49 462.77,161.67 461.22,161.85 459.66,162.02 458.10,162.20 456.55,162.37 454.99,162.54 453.43,162.71 451.88,162.88 450.32,163.04 448.77,163.21 447.21,163.38 445.65,163.54 444.10,163.71 442.54,163.88 440.98,164.04 439.43,164.21 437.87,164.37 436.31,164.54 434.76,164.71 433.20,164.88 431.64,165.05 430.09,165.22 428.53,165.39 426.98,165.56 425.42,165.73 423.86,165.91 422.31,166.09 420.75,166.26 419.19,166.44 417.64,166.63 416.08,166.81 414.52,167.00 412.97,167.19 411.41,167.38 409.85,167.58 408.30,167.77 406.74,167.97 405.19,168.18 403.63,168.38 402.07,168.59 400.52,168.81 398.96,169.03 397.40,169.25 395.85,169.47 394.29,169.69 392.73,169.92 391.18,170.14 389.62,170.37 388.06,170.60 386.51,170.83 384.95,171.06 383.40,171.30 381.84,171.54 380.28,171.78 378.73,172.03 377.17,172.28 375.61,172.54 374.06,172.80 372.50,173.07 370.94,173.34 369.39,173.62 367.83,173.91 366.27,174.20 364.72,174.50 363.16,174.81 361.61,175.12 360.05,175.44 358.49,175.77 356.94,176.11 355.38,176.46 353.82,176.82 352.27,177.19 350.71,177.57 349.15,177.96 347.60,178.38 346.04,178.82 344.48,179.29 342.93,179.79 341.37,180.31 339.82,180.85 338.26,181.40 336.70,181.98 335.15,182.58 333.59,183.19 332.03,183.82 330.48,184.46 328.92,185.11 327.36,185.77 325.81,186.45 324.25,187.13 322.69,187.82 321.14,188.51 319.58,189.21 318.03,189.92 316.47,190.66 314.91,191.42 313.36,192.22 311.80,193.04 310.24,193.88 308.69,194.73 307.13,195.61 305.57,196.50 304.02,197.40 302.46,198.31 300.90,199.22 299.35,200.14 297.79,201.09 296.24,202.06 294.68,203.05 293.12,204.06 291.57,205.08 290.01,206.10 288.45,207.12 286.90,208.14 285.34,209.15 283.78,210.16 282.23,211.19 280.67,212.22 279.11,213.24 277.56,214.26 276.00,215.27 274.45,216.26 272.89,217.23 271.33,218.16 269.78,219.09 268.22,219.99 266.66,220.88 265.11,221.76 263.55,222.64 261.99,223.51 260.44,224.39 258.88,225.29 257.32,226.19 255.77,227.10 254.21,228.00 252.66,228.88 251.10,229.73 249.54,230.56 247.99,231.34 246.43,232.07 244.87,232.75 243.32,233.41 241.76,234.07 240.20,234.71 238.65,235.31 237.09,235.85 235.53,236.31 233.98,236.67 232.42,236.93 230.87,237.16 229.31,237.38 227.75,237.57 226.20,237.75 224.64,237.89 223.08,238.01 221.53,238.08 219.97,238.10 200.00,238.10"/>
<path d="M200.00,238.10 215.00,238.04 216.22,238.03 217.45,238.00 218.67,237.96 219.90,237.89 221.12,237.80 222.35,237.67 223.57,237.52 224.80,237.33 226.02,237.11 227.25,236.84 228.47,236.53 229.70,236.17 230.92,235.75 232.15,235.29 233.37,234.77 234.60,234.18 235.82,233.54 237.04,232.82 238.27,232.04 239.49,231.19 240.72,230.25 241.94,229.24 243.17,228.15 244.39,226.97 245.62,225.70 246.84,224.33 248.07,222.88 249.29,221.32 250.52,219.66 251.74,217.90 252.97,216.03 254.19,214.05 255.42,211.95 256.64,209.74 257.87,207.41 259.09,204.96 260.31,202.39 261.54,199.71 262.76,196.90 263.99,193.97 265.21,190.91 266.44,187.74 267.66,184.43 268.89,181.00 270.11,177.44 271.34,173.75 272.56,169.94 273.79,165.99 275.01,161.91 276.24,157.69 277.46,153.28 278.69,148.56 279.91,143.42 281.13,137.74 282.36,131.61 283.58,125.49 284.81,119.88 286.03,115.04 287.26,110.71 288.48,106.55 289.71,102.21 290.93,97.35 292.16,91.93 293.38,86.21 294.61,80.51 295.83,75.08 297.06,69.99 298.28,65.20 299.51,60.68 300.73,56.41 301.96,52.37 303.18,48.51 304.40,44.82 305.63,41.32 306.85,38.02 308.08,34.93 309.30,32.08 310.53,29.49 311.75,27.16 312.98,25.08 314.20,23.25 315.43,21.65 316.65,20.29 317.88,19.15 319.10,18.23 320.33,17.51 321.55,17.00 322.78,16.67 324.00,16.53 325.73,16.70 327.46,17.20 329.19,18.01 330.91,19.11 332.64,20.45 334.37,22.01 336.10,23.74 337.83,25.62 339.56,27.61 341.29,29.68 343.01,31.82 344.74,33.99 346.47,36.20 348.20,38.42 349.93,40.65 351.66,42.87 353.39,45.08 355.11,47.27 356.84,49.44 358.57,51.59 360.30,53.70 362.03,55.78 363.76,57.83 365.49,59.85 367.21,61.83 368.94,63.77 370.67,65.68 372.40,67.54 374.13,69.38 375.86,71.17 377.59,72.93 379.31,74.64 381.04,76.33 382.77,77.97 384.50,79.58 386.23,81.16 387.96,82.70 389.69,84.20 391.41,85.68 393.14,87.12 394.87,88.52 396.60,89.90 398.33,91.24 400.06,92.55 401.79,93.84 403.51,95.09 405.24,96.32 406.97,97.51 408.70,98.68 410.43,99.83 412.16,100.94 413.89,102.04 415.61,103.10 417.34,104.14 419.07,105.16 420.80,106.16 422.53,107.13 424.26,108.08 425.99,109.01 427.71,109.92 429.44,110.81 431.17,111.67 432.90,112.52 434.63,113.35 436.36,114.16 438.09,114.96 439.81,115.73 441.54,116.49 443.27,117.23 445.00,117.95 446.73,118.66 448.46,119.36 450.19,120.04 451.91,120.70 453.64,121.35 455.37,121.99 457.10,122.61 458.83,123.22 460.56,123.81 462.29,124.40 464.01,124.97 465.74,125.53 467.47,126.07 469.20,126.61 470.93,127.13 472.66,127.65 474.39,128.15 476.11,128.65 477.84,129.13 479.57,129.61 481.30,130.07 483.03,130.53 484.76,130.97 486.49,131.41 488.21,131.84 489.94,132.26 491.67,132.68 493.40,133.08 495.13,133.48 496.86,133.87 498.59,134.26 500.31,134.63 502.04,135.00 503.77,135.37 505.50,135.72 507.23,136.07 508.96,136.42 510.69,136.75 512.41,137.09 514.14,137.41 515.87,137.74 517.60,138.05 519.33,138.36 521.06,138.67 522.79,138.97 524.51,139.26 526.24,139.56 527.97,139.84 529.70,140.12"/>
<path d="M529.70,140.12 528.14,140.63 526.59,141.13 525.03,141.63 523.47,142.11 521.92,142.59 520.36,143.06 518.80,143.52 517.25,143.97 515.69,144.41 514.14,144.84 512.58,145.25 511.02,145.66 509.47,146.05 507.91,146.43 506.35,146.80 504.80,147.16 503.24,147.50 501.68,147.83 500.13,148.14 498.57,148.44 497.01,148.73 495.46,149.01 493.90,149.27 492.35,149.53 490.79,149.78 489.23,150.03 487.68,150.26 486.12,150.49 484.56,150.72 483.01,150.94 481.45,151.16 479.89,151.38 478.34,151.59 476.78,151.81 475.22,152.03 473.67,152.25 472.11,152.47 470.56,152.69 469.00,152.92 467.44,153.14 465.89,153.36 464.33,153.58 462.77,153.79 461.22,154.01 459.66,154.22 458.10,154.42 456.55,154.63 454.99,154.83 453.43,155.04 451.88,155.24 450.32,155.44 448.77,155.63 447.21,155.83 445.65,156.03 444.10,156.22 442.54,156.42 440.98,156.62 439.43,156.81 437.87,157.01 436.31,157.20 434.76,157.40 433.20,157.60 431.64,157.80 430.09,158.00 428.53,158.20 426.98,158.40 425.42,158.60 423.86,158.81 422.31,159.02 420.75,159.22 419.19,159.44 417.64,159.65 416.08,159.87 414.52,160.09 412.97,160.31 411.41,160.54 409.85,160.77 408.30,161.00 406.74,161.23 405.19,161.48 403.63,161.72 402.07,161.97 400.52,162.22 398.96,162.48 397.40,162.74 395.85,163.01 394.29,163.27 392.73,163.54 391.18,163.81 389.62,164.08 388.06,164.36 386.51,164.64 384.95,164.92 383.40,165.21 381.84,165.50 380.28,165.79 378.73,166.09 377.17,166.39 375.61,166.70 374.06,167.02 372.50,167.34 370.94,167.67 369.39,168.00 367.83,168.35 366.27,168.70 364.72,169.05 363.16,169.42 361.61,169.79 360.05,170.18 358.49,170.57 356.94,170.97 355.38,171.38 353.82,171.80 352.27,172.23 350.71,172.68 349.15,173.14 347.60,173.62 346.04,174.13 344.48,174.66 342.93,175.22 341.37,175.80 339.82,176.41 338.26,177.03 336.70,177.68 335.15,178.34 333.59,179.02 332.03,179.72 330.48,180.43 328.92,181.16 327.36,181.90 325.81,182.66 324.25,183.42 322.69,184.20 321.14,184.99 319.58,185.78 318.03,186.59 316.47,187.43 314.91,188.31 313.36,189.22 311.80,190.16 310.24,191.12 308.69,192.12 307.13,193.13 305.57,194.16 304.02,195.21 302.46,196.27 300.90,197.33 299.35,198.41 297.79,199.53 296.24,200.69 294.68,201.87 293.12,203.08 291.57,204.30 290.01,205.52 288.45,206.73 286.90,207.93 285.34,209.11 283.78,210.29 282.23,211.49 280.67,212.69 279.11,213.88 277.56,215.06 276.00,216.20 274.45,217.31 272.89,218.37 271.33,219.39 269.78,220.38 268.22,221.33 266.66,222.26 265.11,223.16 263.55,224.04 261.99,224.88 260.44,225.71 258.88,226.53 257.32,227.34 255.77,228.14 254.21,228.91 252.66,229.67 251.10,230.40 249.54,231.11 247.99,231.79 246.43,232.44 244.87,233.06 243.32,233.67 241.76,234.30 240.20,234.91 238.65,235.48 237.09,236.00 235.53,236.44 233.98,236.79 232.42,237.03 230.87,237.24 229.31,237.44 227.75,237.62 226.20,237.78 224.64,237.91 223.08,238.01 221.53,238.08 219.97,238.10 200.00,238.10"/>
<line x1="68.4" y1="238.10" x2="201" y2="238.10" stroke-width="1.6"/>
</g>
<g fill="none" stroke="#ff0000" stroke-width="2.4" stroke-dasharray="5.64 1.5" stroke-dashoffset="-0.6">
<path d="M68.40,238.30 69.94,238.30 71.49,238.30 73.03,238.30 74.57,238.30 76.11,238.31 77.66,238.31 79.20,238.31 80.74,238.31 82.29,238.31 83.83,238.31 85.37,238.32 86.91,238.32 88.46,238.32 90.00,238.32 91.54,238.32 93.08,238.32 94.63,238.32 96.17,238.33 97.71,238.33 99.26,238.33 100.80,238.33 102.34,238.33 103.88,238.33 105.43,238.34 106.97,238.34 108.51,238.34 110.06,238.34 111.60,238.34 113.14,238.34 114.68,238.34 116.23,238.35 117.77,238.35 119.31,238.35 120.86,238.35 122.40,238.35 123.94,238.35 125.48,238.35 127.03,238.35 128.57,238.36 130.11,238.36 131.66,238.36 133.20,238.36 134.74,238.36 136.28,238.36 137.83,238.36 139.37,238.37 140.91,238.37 142.45,238.37 144.00,238.37 145.54,238.37 147.08,238.37 148.63,238.37 150.17,238.37 151.71,238.38 153.25,238.38 154.80,238.38 156.34,238.38 157.88,238.38 159.43,238.38 160.97,238.38 162.51,238.38 164.05,238.39 165.60,238.39 167.14,238.39 168.68,238.39 170.23,238.39 171.77,238.39 173.31,238.39 174.85,238.39 176.40,238.40 177.94,238.40 179.48,238.40 181.03,238.40 182.57,238.40 184.11,238.40 185.65,238.40 187.20,238.40 188.74,238.41 190.28,238.41 191.82,238.41 193.37,238.41 194.91,238.41 196.45,238.41 198.00,238.41 199.54,238.41 201.08,238.41 202.62,238.41 204.17,238.42 205.71,238.42 207.25,238.42 208.80,238.42 210.34,238.42 211.88,238.42 213.42,238.42 214.97,238.42 216.51,238.42 218.05,238.43 219.60,238.43 221.14,238.43 222.68,238.43 224.22,238.43 225.77,238.43 227.31,238.43 228.85,238.43 230.39,238.43 231.94,238.43 233.48,238.44 235.02,238.44 236.57,238.44 238.11,238.44 239.65,238.44 241.19,238.44 242.74,238.44 244.28,238.44 245.82,238.44 247.37,238.44 248.91,238.44 250.45,238.45 251.99,238.45 253.54,238.45 255.08,238.45 256.62,238.45 258.17,238.45 259.71,238.45 261.25,238.45 262.79,238.45 264.34,238.45 265.88,238.45 267.42,238.45 268.97,238.45 270.51,238.46 272.05,238.46 273.59,238.46 275.14,238.46 276.68,238.46 278.22,238.46 279.76,238.46 281.31,238.46 282.85,238.46 284.39,238.46 285.94,238.46 287.48,238.46 289.02,238.46 290.56,238.47 292.11,238.47 293.65,238.47 295.19,238.47 296.74,238.47 298.28,238.47 299.82,238.47 301.36,238.47 302.91,238.47 304.45,238.47 305.99,238.47 307.54,238.47 309.08,238.47 310.62,238.47 312.16,238.47 313.71,238.47 315.25,238.48 316.79,238.48 318.34,238.48 319.88,238.48 321.42,238.48 322.96,238.48 324.51,238.48 326.05,238.48 327.59,238.48 329.13,238.48 330.68,238.48 332.22,238.48 333.76,238.48 335.31,238.48 336.85,238.48 338.39,238.48 339.93,238.48 341.48,238.48 343.02,238.48 344.56,238.48 346.11,238.49 347.65,238.49 349.19,238.49 350.73,238.49 352.28,238.49 353.82,238.49 355.36,238.49 356.91,238.49 358.45,238.49 359.99,238.49 361.53,238.49 363.08,238.49 364.62,238.49 366.16,238.49 367.71,238.49 369.25,238.49 370.79,238.49 372.33,238.49 373.88,238.49 375.42,238.49 376.96,238.49 378.50,238.49 380.05,238.49 381.59,238.49 383.13,238.49 384.68,238.49 386.22,238.49 387.76,238.49 389.30,238.49 390.85,238.49 392.39,238.49 393.93,238.49 395.48,238.50 397.02,238.50 398.56,238.50 400.10,238.50 401.65,238.50 403.19,238.50 404.73,238.50 406.28,238.50 407.82,238.50 409.36,238.50 410.90,238.50 412.45,238.50 413.99,238.50 415.53,238.50 417.07,238.50 418.62,238.50 420.16,238.50 421.70,238.50 423.25,238.50 424.79,238.50 426.33,238.50 427.87,238.50 429.42,238.50 430.96,238.50 432.50,238.50 434.05,238.50 435.59,238.50 437.13,238.50 438.67,238.50 440.22,238.50 441.76,238.50 443.30,238.50 444.85,238.50 446.39,238.50 447.93,238.50 449.47,238.50 451.02,238.50 452.56,238.50 454.10,238.50 455.65,238.50 457.19,238.50 458.73,238.50 460.27,238.50 461.82,238.50 463.36,238.50 464.90,238.50 466.44,238.50 467.99,238.50 469.53,238.50 471.07,238.50 472.62,238.50 474.16,238.50 475.70,238.50 477.24,238.50 478.79,238.50 480.33,238.50 481.87,238.50 483.42,238.49 484.96,238.48 486.50,238.47 488.04,238.46 489.59,238.45 491.13,238.43 492.67,238.42 494.22,238.40 495.76,238.38 497.30,238.36 498.84,238.32 500.39,238.28 501.93,238.22 503.47,238.15 505.02,238.08 506.56,237.99 508.10,237.90 509.64,237.81 511.19,237.71 512.73,237.62 514.27,237.52 515.81,237.42 517.36,237.33 518.90,237.24 520.44,237.16 521.99,237.09 523.53,237.02 525.07,236.91 526.61,236.52 528.16,235.76 529.70,234.79"/>
<path d="M68.40,238.30 69.94,238.30 71.49,238.30 73.03,238.30 74.57,238.30 76.11,238.30 77.66,238.30 79.20,238.30 80.74,238.30 82.29,238.30 83.83,238.30 85.37,238.30 86.91,238.30 88.46,238.30 90.00,238.30 91.54,238.30 93.08,238.30 94.63,238.30 96.17,238.30 97.71,238.30 99.26,238.30 100.80,238.30 102.34,238.30 103.88,238.30 105.43,238.30 106.97,238.30 108.51,238.30 110.06,238.30 111.60,238.30 113.14,238.30 114.68,238.30 116.23,238.30 117.77,238.30 119.31,238.30 120.86,238.30 122.40,238.30 123.94,238.30 125.48,238.30 127.03,238.30 128.57,238.30 130.11,238.30 131.66,238.30 133.20,238.30 134.74,238.30 136.28,238.30 137.83,238.30 139.37,238.30 140.91,238.30 142.45,238.30 144.00,238.30 145.54,238.30 147.08,238.30 148.63,238.30 150.17,238.30 151.71,238.30 153.25,238.30 154.80,238.30 156.34,238.30 157.88,238.30 159.43,238.30 160.97,238.30 162.51,238.30 164.05,238.30 165.60,238.30 167.14,238.30 168.68,238.30 170.23,238.30 171.77,238.30 173.31,238.30 174.85,238.30 176.40,238.30 177.94,238.30 179.48,238.30 181.03,238.30 182.57,238.30 184.11,238.30 185.65,238.30 187.20,238.30 188.74,238.30 190.28,238.30 191.82,238.30 193.37,238.30 194.91,238.30 196.45,238.30 198.00,238.30 199.54,238.30 201.08,238.30 202.62,238.30 204.17,238.30 205.71,238.30 207.25,238.30 208.80,238.30 210.34,238.30 211.88,238.30 213.42,238.30 214.97,238.30 216.51,238.30 218.05,238.30 219.60,238.30 221.14,238.30 222.68,238.30 224.22,238.30 225.77,238.30 227.31,238.30 228.85,238.30 230.39,238.30 231.94,238.30 233.48,238.30 235.02,238.30 236.57,238.30 238.11,238.30 239.65,238.30 241.19,238.30 242.74,238.30 244.28,238.30 245.82,238.30 247.37,238.30 248.91,238.30 250.45,238.30 251.99,238.30 253.54,238.30 255.08,238.30 256.62,238.30 258.17,238.30 259.71,238.30 261.25,238.30 262.79,238.30 264.34,238.30 265.88,238.30 267.42,238.30 268.97,238.30 270.51,238.30 272.05,238.30 273.59,238.30 275.14,238.30 276.68,238.30 278.22,238.30 279.76,238.30 281.31,238.30 282.85,238.30 284.39,238.30 285.94,238.30 287.48,238.30 289.02,238.30 290.56,238.30 292.11,238.30 293.65,238.30 295.19,238.30 296.74,238.30 298.28,238.30 299.82,238.30 301.36,238.30 302.91,238.30 304.45,238.30 305.99,238.30 307.54,238.30 309.08,238.30 310.62,238.30 312.16,238.30 313.71,238.30 315.25,238.30 316.79,238.30 318.34,238.30 319.88,238.30 321.42,238.30 322.96,238.30 324.51,238.30 326.05,238.30 327.59,238.30 329.13,238.30 330.68,238.30 332.22,238.30 333.76,238.30 335.31,238.30 336.85,238.30 338.39,238.30 339.93,238.30 341.48,238.29 343.02,238.29 344.56,238.29 346.11,238.29 347.65,238.29 349.19,238.28 350.73,238.28 352.28,238.28 353.82,238.28 355.36,238.27 356.91,238.27 358.45,238.27 359.99,238.26 361.53,238.26 363.08,238.25 364.62,238.25 366.16,238.24 367.71,238.24 369.25,238.23 370.79,238.23 372.33,238.22 373.88,238.22 375.42,238.21 376.96,238.20 378.50,238.20 380.05,238.19 381.59,238.18 383.13,238.18 384.68,238.17 386.22,238.16 387.76,238.16 389.30,238.15 390.85,238.14 392.39,238.13 393.93,238.12 395.48,238.11 397.02,238.11 398.56,238.10 400.10,238.08 401.65,238.07 403.19,238.04 404.73,238.02 406.28,237.99 407.82,237.96 409.36,237.92 410.90,237.89 412.45,237.85 413.99,237.81 415.53,237.76 417.07,237.72 418.62,237.67 420.16,237.62 421.70,237.57 423.25,237.53 424.79,237.48 426.33,237.43 427.87,237.38 429.42,237.33 430.96,237.28 432.50,237.23 434.05,237.17 435.59,237.12 437.13,237.06 438.67,236.99 440.22,236.93 441.76,236.86 443.30,236.79 444.85,236.72 446.39,236.65 447.93,236.58 449.47,236.50 451.02,236.43 452.56,236.35 454.10,236.28 455.65,236.21 457.19,236.13 458.73,236.06 460.27,235.99 461.82,235.92 463.36,235.85 464.90,235.79 466.44,235.72 467.99,235.66 469.53,235.60 471.07,235.55 472.62,235.50 474.16,235.45 475.70,235.40 477.24,235.36 478.79,235.31 480.33,235.27 481.87,235.23 483.42,235.18 484.96,235.14 486.50,235.10 488.04,235.05 489.59,235.00 491.13,234.95 492.67,234.89 494.22,234.83 495.76,234.76 497.30,234.70 498.84,234.63 500.39,234.57 501.93,234.50 503.47,234.43 505.02,234.35 506.56,234.27 508.10,234.18 509.64,234.09 511.19,233.98 512.73,233.87 514.27,233.74 515.81,233.60 517.36,233.45 518.90,233.28 520.44,233.09 521.99,232.63 523.53,232.08 525.07,231.81 526.61,232.21 528.16,233.27 529.70,234.79"/>
</g>
<g stroke="#000" fill="none">
<line x1="68.4" y1="6.4" x2="529.7" y2="6.4" stroke-width="1.6"/>
<line x1="529.7" y1="6.4" x2="529.7" y2="271.2" stroke-width="1.6"/>
<line x1="68.4" y1="5.6" x2="68.4" y2="272" stroke-width="1.8"/>
<line x1="67.5" y1="271.2" x2="530.5" y2="271.2" stroke-width="1.8"/>
<line x1="63" y1="6.40" x2="68.4" y2="6.40" stroke-width="1.1" stroke="#222"/>
<line x1="63" y1="39.50" x2="68.4" y2="39.50" stroke-width="1.1" stroke="#222"/>
<line x1="63" y1="72.60" x2="68.4" y2="72.60" stroke-width="1.1" stroke="#222"/>
<line x1="63" y1="105.70" x2="68.4" y2="105.70" stroke-width="1.1" stroke="#222"/>
<line x1="63" y1="138.80" x2="68.4" y2="138.80" stroke-width="1.1" stroke="#222"/>
<line x1="63" y1="171.90" x2="68.4" y2="171.90" stroke-width="1.1" stroke="#222"/>
<line x1="63" y1="205.00" x2="68.4" y2="205.00" stroke-width="1.1" stroke="#222"/>
<line x1="63" y1="238.10" x2="68.4" y2="238.10" stroke-width="1.1" stroke="#222"/>
<line x1="63" y1="271.20" x2="68.4" y2="271.20" stroke-width="1.1" stroke="#222"/>
<line x1="68.40" y1="271.2" x2="68.40" y2="276.6" stroke-width="1.1" stroke="#222"/>
<line x1="101.35" y1="271.2" x2="101.35" y2="276.6" stroke-width="1.1" stroke="#222"/>
<line x1="134.30" y1="271.2" x2="134.30" y2="276.6" stroke-width="1.1" stroke="#222"/>
<line x1="167.25" y1="271.2" x2="167.25" y2="276.6" stroke-width="1.1" stroke="#222"/>
<line x1="200.20" y1="271.2" x2="200.20" y2="276.6" stroke-width="1.1" stroke="#222"/>
<line x1="233.15" y1="271.2" x2="233.15" y2="276.6" stroke-width="1.1" stroke="#222"/>
<line x1="266.10" y1="271.2" x2="266.10" y2="276.6" stroke-width="1.1" stroke="#222"/>
<line x1="299.05" y1="271.2" x2="299.05" y2="276.6" stroke-width="1.1" stroke="#222"/>
<line x1="332.00" y1="271.2" x2="332.00" y2="276.6" stroke-width="1.1" stroke="#222"/>
<line x1="364.95" y1="271.2" x2="364.95" y2="276.6" stroke-width="1.1" stroke="#222"/>
<line x1="397.90" y1="271.2" x2="397.90" y2="276.6" stroke-width="1.1" stroke="#222"/>
<line x1="430.85" y1="271.2" x2="430.85" y2="276.6" stroke-width="1.1" stroke="#222"/>
<line x1="463.80" y1="271.2" x2="463.80" y2="276.6" stroke-width="1.1" stroke="#222"/>
<line x1="496.75" y1="271.2" x2="496.75" y2="276.6" stroke-width="1.1" stroke="#222"/>
<line x1="529.70" y1="271.2" x2="529.70" y2="276.6" stroke-width="1.1" stroke="#222"/>
</g>
<g fill="#1a1a1a" font-size="7.6">
<text x="97.4" y="134.20" text-anchor="end">0</text>
<text x="97.4" y="118.10" text-anchor="end">0.5</text>
<text x="97.4" y="102.00" text-anchor="end">1</text>
<text x="97.4" y="85.90" text-anchor="end">1.5</text>
<text x="97.4" y="69.80" text-anchor="end">2</text>
<text x="97.4" y="53.70" text-anchor="end">2.5</text>
<text x="97.4" y="37.60" text-anchor="end">3</text>
<text x="97.4" y="21.50" text-anchor="end">3.5</text>
<text x="103.60" y="144.2" text-anchor="middle">0</text>
<text x="138.46" y="144.2" text-anchor="middle">2</text>
<text x="173.32" y="144.2" text-anchor="middle">4</text>
<text x="208.18" y="144.2" text-anchor="middle">6</text>
<text x="243.04" y="144.2" text-anchor="middle">8</text>
<text x="277.90" y="144.2" text-anchor="middle">10</text>
<text x="169.5" y="151.5">&#957;<tspan dy="-3" font-size="5.2">1/2</tspan><tspan dy="3"> / mV</tspan><tspan dy="-3" font-size="5.2">1/2</tspan><tspan dy="3">s</tspan><tspan dy="-3" font-size="5.2">-1/2</tspan></text>
<text transform="translate(81.2,94.3) rotate(-90)" font-size="7.5" fill="#333"><tspan font-style="italic">j</tspan><tspan dy="1.5" font-size="5.2">p</tspan><tspan dy="-1.5"> / Am</tspan><tspan dy="-3" font-size="5.2">-2</tspan></text>
</g>
<g font-size="19" fill="#000">
<text x="51.5" y="13.90" text-anchor="end">3.5</text>
<text x="51.5" y="80.10" text-anchor="end">2.5</text>
<text x="51.5" y="146.30" text-anchor="end">1.5</text>
<text x="51.5" y="212.50" text-anchor="end">0.5</text>
<text x="51.5" y="278.70" text-anchor="end">-0.5</text>
<text x="68.40" y="301.5" text-anchor="middle">-200</text>
<text x="134.30" y="301.5" text-anchor="middle">0</text>
<text x="200.20" y="301.5" text-anchor="middle">200</text>
<text x="266.10" y="301.5" text-anchor="middle">400</text>
<text x="332.00" y="301.5" text-anchor="middle">600</text>
<text x="397.90" y="301.5" text-anchor="middle">800</text>
<text x="463.80" y="301.5" text-anchor="middle">1000</text>
<text x="529.70" y="301.5" text-anchor="middle">1200</text>
<text x="251.5" y="327" ><tspan font-style="italic">E</tspan> / mV</text>
<text transform="translate(16,170.5) rotate(-90)"><tspan font-style="italic">j</tspan> / Am<tspan dy="-7" font-size="12">-2</tspan></text>
</g>
<g font-size="19" fill="#000">
<text x="306.5" y="154.5">a</text>
<text x="312.6" y="128.0">b</text>
<text x="314.0" y="107.5">c</text>
<text x="314.5" y="88.5">d</text>
<text x="319.6" y="68.5">e</text>
<text x="324.2" y="43.0">f</text>
<text x="343.8" y="25.5">g</text>
</g>
</svg>
</body></html>
